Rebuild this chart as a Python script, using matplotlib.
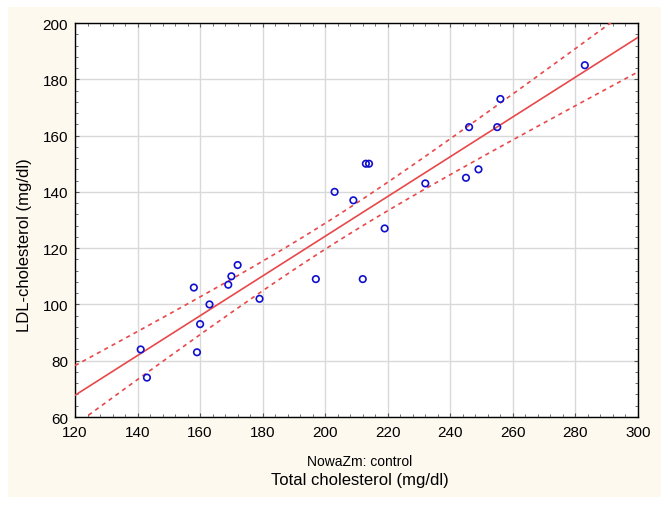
import matplotlib.pyplot as plt
import numpy as np
from matplotlib.ticker import AutoMinorLocator
from matplotlib.patches import Rectangle

# data
total_chol = [141, 143, 158, 159, 160, 163, 169, 170, 172, 179, 197, 203,
              209, 212, 213, 214, 219, 232, 245, 246, 249, 255, 256, 283]
ldl_chol = [84, 74, 106, 83, 93, 100, 107, 110, 114, 102, 109, 140,
            137, 109, 150, 150, 127, 143, 145, 163, 148, 163, 173, 185]

x = np.array(total_chol, dtype=float)
y = np.array(ldl_chol, dtype=float)
n = len(x)

# linear fit + 95% confidence band of the mean
b, a = np.polyfit(x, y, 1)
resid = y - (a + b * x)
s = np.sqrt(np.sum(resid ** 2) / (n - 2))
t = 2.074  # t(0.975, 22)
xx = np.linspace(120, 300, 200)
yy = a + b * xx
se = s * np.sqrt(1.0 / n + (xx - x.mean()) ** 2 / np.sum((x - x.mean()) ** 2))

plt.rcParams['font.family'] = ['Liberation Sans', 'DejaVu Sans']

fig = plt.figure(figsize=(6.69, 5.06), dpi=100, facecolor='white')
fig.patches.append(Rectangle((8 / 669, 8 / 506), 653 / 669, 490 / 506,
                             transform=fig.transFigure, facecolor='#fdf9ef',
                             edgecolor='none', zorder=-1))
ax = fig.add_axes([75 / 669, 88 / 506, 563 / 669, 394 / 506])
ax.set_facecolor('white')

red = '#e8484a'
ax.plot(xx, yy, color=red, lw=1.2, zorder=3)
ax.plot(xx, yy + t * se, color=red, lw=1.2, ls=(0, (2.5, 2.5)), zorder=3)
ax.plot(xx, yy - t * se, color=red, lw=1.2, ls=(0, (2.5, 2.5)), zorder=3)
ax.scatter(x, y, s=22, facecolors='none', edgecolors='#1010cc', linewidths=1.2, zorder=4)

ax.set_xlim(120, 300)
ax.set_ylim(60, 200)
ax.set_xticks(np.arange(120, 301, 20))
ax.set_yticks(np.arange(60, 201, 20))
ax.xaxis.set_minor_locator(AutoMinorLocator(5))
ax.yaxis.set_minor_locator(AutoMinorLocator(5))
ax.grid(True, which='major', color='#d9d9d9', lw=1, zorder=0)
ax.tick_params(which='both', direction='in', top=True, right=True,
               labelsize=11, color='#555555')
ax.tick_params(which='major', length=3)
ax.tick_params(which='minor', length=2)
ax.tick_params(axis='x', which='major', pad=6)
ax.tick_params(axis='y', which='major', pad=5)
for sp in ax.spines.values():
    sp.set_linewidth(1)
    sp.set_color('black')

fig.text(25 / 669, 1 - 245 / 506, 'LDL-cholesterol (mg/dl)', rotation=90,
         ha='center', va='center', fontsize=12)
fig.text(360 / 669, 1 - 481 / 506, 'Total cholesterol (mg/dl)',
         ha='center', va='center', fontsize=12)
fig.text(360 / 669, 1 - 462 / 506, 'NowaZm: control', ha='center', va='center', fontsize=10)

fig.savefig('out.png', dpi=100, facecolor=fig.get_facecolor())
